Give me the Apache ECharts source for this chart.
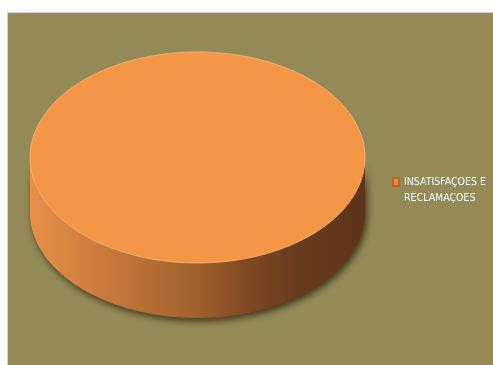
<!DOCTYPE html>
<html><head><meta charset="utf-8">
<script src="https://cdn.jsdelivr.net/npm/echarts@6/dist/echarts.min.js"></script>
<style>
html,body{margin:0;padding:0;background:#fff;width:493px;height:365px;overflow:hidden;}
#c{position:absolute;left:7px;top:12px;width:486px;height:353px;border-top:1px solid #cfd3d8;border-left:1px solid #cfd3d8;box-sizing:border-box;}
</style></head><body><div id="c"></div>
<script>
const categories = ['INSATISFAÇOES E RECLAMAÇOES'];
const values = [100];
const sliceColors = ['#F59647'];

const chart = echarts.init(document.getElementById('c'), null, {renderer: 'canvas'});
const total = values.reduce((a, b) => a + b, 0);
const starts = [];
let acc = 0;
values.forEach(v => { starts.push(acc); acc += v; });

function renderItem(params, api) {
  const i = params.dataIndex;
  const cx = 189.5, cy = 144.5, rx = 167.5, ry = 105.5, depth = 55;
  const a0 = -Math.PI / 2 + starts[i] / total * Math.PI * 2;
  const a1 = -Math.PI / 2 + (starts[i] + api.value(0)) / total * Math.PI * 2;
  const full = Math.abs(a1 - a0 - Math.PI * 2) < 1e-6;
  const N = 200;
  const top = [];
  if (!full) top.push([cx, cy]);
  for (let k = 0; k <= N; k++) {
    const a = a0 + (a1 - a0) * k / N;
    top.push([cx + rx * Math.cos(a), cy + ry * Math.sin(a)]);
  }
  const s0 = Math.max(a0, 0), s1 = Math.min(a1, Math.PI);
  const children = [];
  const sideGrad = new echarts.graphic.LinearGradient(cx - rx, 0, cx + rx, 0, [
    {offset: 0, color: '#E8904A'},
    {offset: 0.2, color: '#CB7C3D'},
    {offset: 0.5, color: '#A1602D'},
    {offset: 0.68, color: '#7A4522'},
    {offset: 0.8, color: '#663B1D'},
    {offset: 1, color: '#5E341A'}
  ], true);
  if (s1 > s0) {
    const side = [];
    for (let k = 0; k <= N; k++) {
      const a = s0 + (s1 - s0) * k / N;
      side.push([cx + rx * Math.cos(a), cy + ry * Math.sin(a)]);
    }
    for (let k = N; k >= 0; k--) {
      const a = s0 + (s1 - s0) * k / N;
      side.push([cx + rx * Math.cos(a), cy + depth + ry * Math.sin(a)]);
    }
    children.push({
      type: 'polygon', shape: {points: side},
      style: {fill: sideGrad, shadowColor: 'rgba(35,25,5,0.75)', shadowBlur: 7, shadowOffsetY: 3, shadowOffsetX: 2}
    });
  }
  children.push({
    type: 'polygon', shape: {points: top},
    style: {fill: sliceColors[i % sliceColors.length], stroke: 'rgba(255,190,130,0.7)', lineWidth: 1}
  });
  return {type: 'group', children: children};
}

chart.setOption({
  animation: false,
  backgroundColor: '#938A57',
  legend: {
    orient: 'vertical',
    left: 384, top: 145,
    padding: 0,
    itemWidth: 6, itemHeight: 8,
    icon: 'rect',
    data: categories,
    formatter: name => '\n' + name.replace(' E ', ' E\n'),
    textStyle: {color: '#ffffff', fontFamily: 'DejaVu Sans Condensed, sans-serif', fontSize: 10.5, lineHeight: 16}
  },
  series: [{
    type: 'custom',
    name: categories[0],
    coordinateSystem: 'none',
    renderItem: renderItem,
    itemStyle: {color: '#F0893A', borderColor: '#B8652A', borderWidth: 1},
    data: values.map((v, i) => ({name: categories[i], value: [v]}))
  }]
});
</script></body></html>
